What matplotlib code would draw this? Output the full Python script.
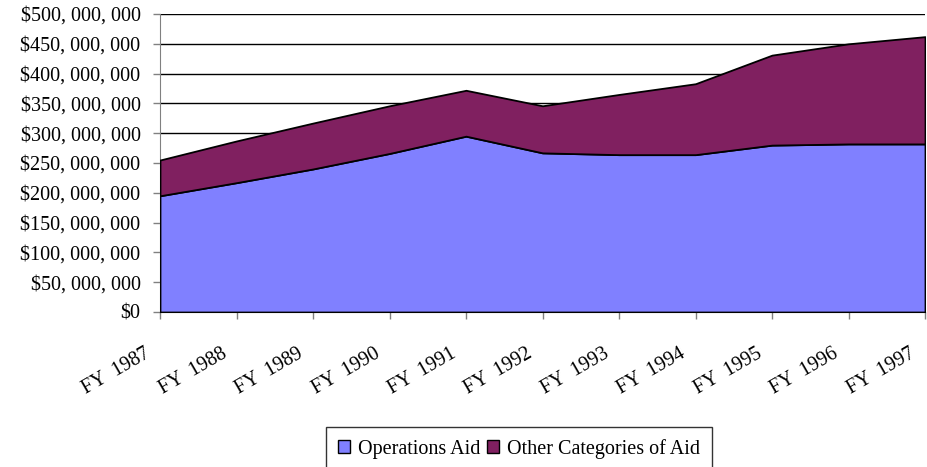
import matplotlib
matplotlib.use("Agg")
import matplotlib.pyplot as plt
from matplotlib.ticker import FuncFormatter, MultipleLocator

years = ["FY  1987", "FY  1988", "FY  1989", "FY  1990", "FY  1991", "FY  1992",
         "FY  1993", "FY  1994", "FY  1995", "FY  1996", "FY  1997"]
operations_aid = [195e6, 217e6, 240e6, 266e6, 295e6, 267e6,
                  264e6, 264e6, 280e6, 282e6, 282e6]
total_aid = [255e6, 287e6, 317e6, 346e6, 372e6, 346e6,
             365e6, 383e6, 431e6, 450e6, 462e6]
other_aid = [t - o for t, o in zip(total_aid, operations_aid)]

plt.rcParams["font.family"] = ["Liberation Serif", "DejaVu Serif"]
FS = 14.5

fig = plt.figure(figsize=(9.27, 4.67), dpi=100)
ax = fig.add_axes([160 / 927, 1 - 312 / 467, 765 / 927, 298 / 467])

x = list(range(len(years)))
ax.stackplot(x, operations_aid, other_aid,
             colors=["#8080FF", "#802060"],
             labels=["Operations Aid", "Other Categories of Aid"],
             edgecolor="black", linewidth=1.3, zorder=3)

ax.set_xlim(0, len(years) - 1)
ax.set_ylim(0, 500e6)
ax.yaxis.set_major_locator(MultipleLocator(50e6))
ax.yaxis.set_major_formatter(FuncFormatter(lambda v, p: f"${v:,.0f}".replace(",", ", ")))
ax.grid(axis="y", color="black", linewidth=1.0, zorder=1)
ax.set_axisbelow(True)

ax.spines["top"].set_visible(False)
ax.spines["right"].set_visible(False)
ax.spines["left"].set_color("#808080")
ax.spines["bottom"].set_color("black")

ax.tick_params(axis="y", length=5, width=1, color="#808080", pad=9, labelsize=FS)
ax.tick_params(axis="x", length=5, width=1, color="#808080", labelsize=FS)

# rotated category labels, anchored at their upper-right corner
ax.set_xticks(x)
ax.set_xticklabels([])
for xi, label in zip(x, years):
    ax.annotate(label, xy=(xi, 0), xycoords="data",
                xytext=(-16, -32), textcoords="offset pixels",
                rotation=30, ha="right", va="top", rotation_mode="anchor",
                fontsize=FS, annotation_clip=False)

leg = fig.legend(loc="upper center", bbox_to_anchor=(519 / 927, 1 - 427 / 467),
                 borderaxespad=0, ncol=2, fontsize=FS, frameon=True, fancybox=False,
                 edgecolor="black", handlelength=0.6, handleheight=0.6,
                 handletextpad=0.4, columnspacing=0.3, borderpad=0.6)
leg.get_frame().set_linewidth(1.0)
for h in leg.legend_handles:
    h.set_edgecolor("black")
    h.set_linewidth(1.0)

fig.savefig("out.png", dpi=100, facecolor="white")
